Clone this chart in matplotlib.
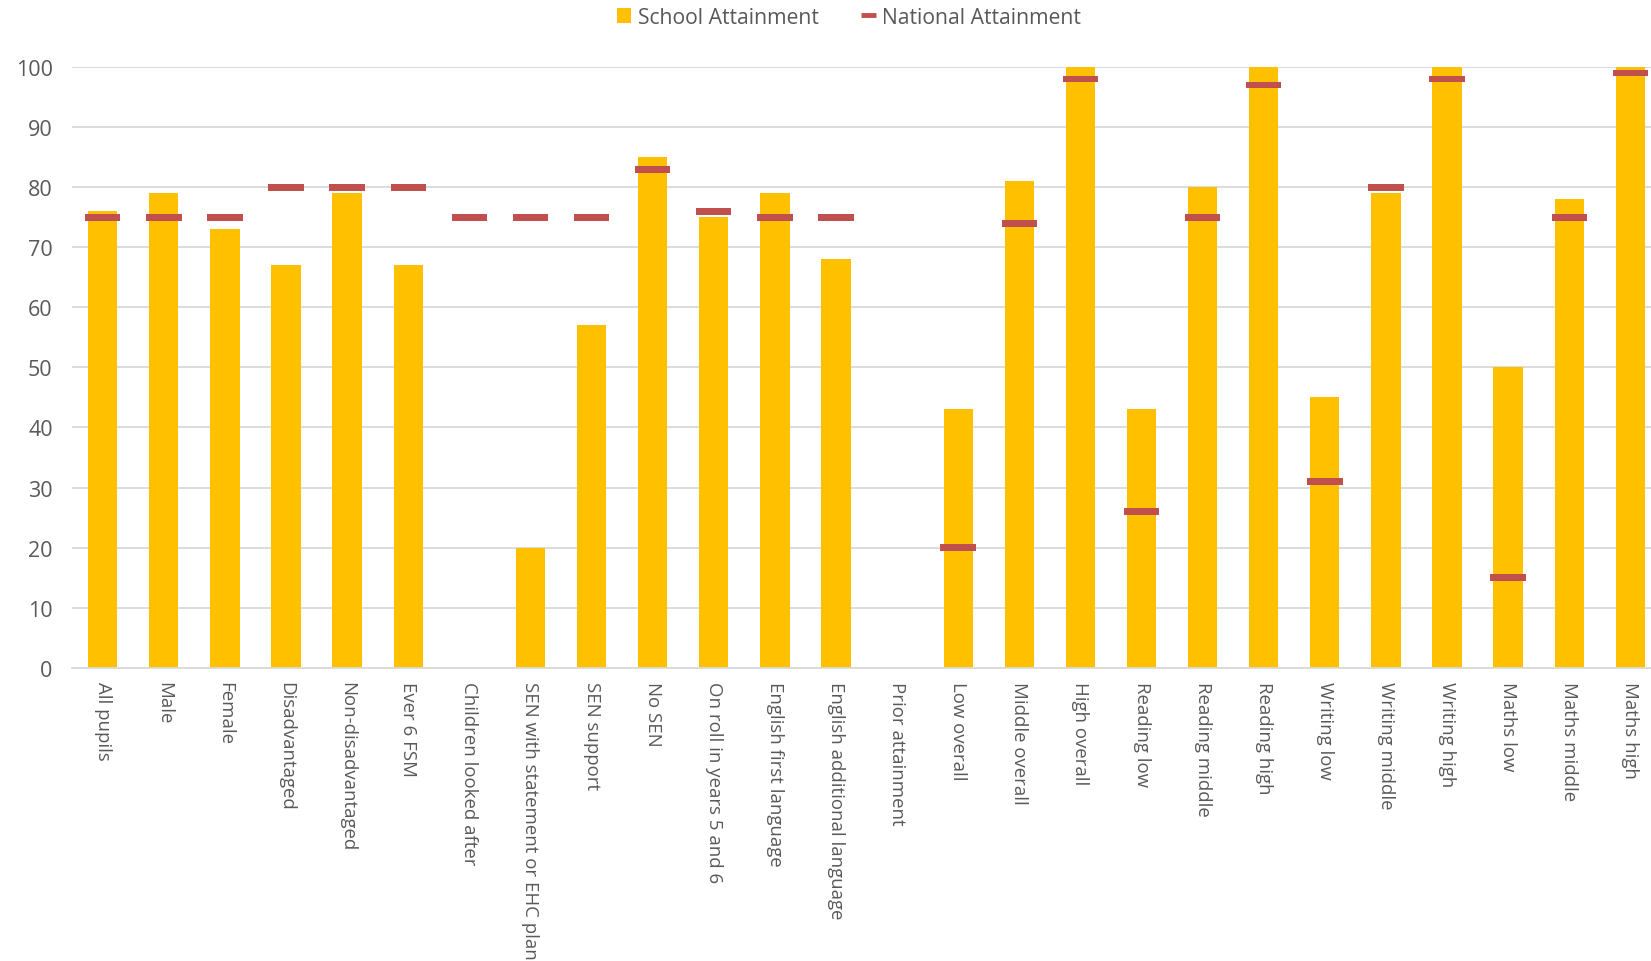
import numpy as np
from matplotlib import pyplot as plt
from matplotlib.lines import Line2D
from matplotlib.patches import Patch


categories = [
    "All pupils", "Male", "Female", "Disadvantaged", "Non-disadvantaged",
    "Ever 6 FSM", "Children looked after", "SEN with statement or EHC plan",
    "SEN support", "No SEN", "On roll in years 5 and 6", "English first language",
    "English additional language", "Prior attainment", "Low overall",
    "Middle overall", "High overall", "Reading low", "Reading middle",
    "Reading high", "Writing low", "Writing middle", "Writing high",
    "Maths low", "Maths middle", "Maths high",
]

school = [76, 79, 73, 67, 79, 67, np.nan, 20, 57, 85, 75, 79, 68, np.nan,
          43, 81, 100, 43, 80, 100, 45, 79, 100, 50, 78, 100]
national = [75, 75, 75, 80, 80, 80, 75, 75, 75, 83, 76, 75, 75, np.nan,
            20, 74, 98, 26, 75, 97, 31, 80, 98, 15, 75, 99]

yticks = [0, 10, 20, 30, 40, 50, 60, 70, 80, 90, 100]

yellow = "#FFC000"
red = "#C0504D"
text_color = "#595959"
grid_color = "#D9D9D9"

plt.rcParams["font.family"] = ["Open Sans", "DejaVu Sans"]

fig = plt.figure(figsize=(16.51, 9.62), dpi=100)
# plot area runs a little past the right edge, as in the cropped original
ax = fig.add_axes([0.0437, 0.305, 0.9623, 0.624])

x = np.arange(len(categories))
school_arr = np.array(school, dtype=float)
nat_arr = np.array(national, dtype=float)

ax.bar(x, np.nan_to_num(school_arr), width=0.48, color=yellow, zorder=2)

# national attainment as short thick dashes
marker_h = 1.05
ax.bar(x, np.where(np.isnan(nat_arr), 0, marker_h),
       bottom=np.nan_to_num(nat_arr) - marker_h / 2,
       width=0.58, color=red, zorder=3)

ax.set_xlim(-0.5, len(categories) - 0.5)
ax.set_ylim(0, 100)
ax.set_yticks(yticks)
ax.yaxis.grid(True, color=grid_color, linewidth=1.3, zorder=0)
ax.set_axisbelow(True)

for side in ["top", "right", "left"]:
    ax.spines[side].set_visible(False)
ax.spines["bottom"].set_color(grid_color)
ax.spines["bottom"].set_linewidth(1.3)

ax.set_xticks(x)
ax.set_xticklabels(categories, rotation=270, ha="center", va="top",
                   fontsize=13.4, color=text_color)
ax.tick_params(axis="x", length=0, pad=10)
ax.tick_params(axis="y", length=0, pad=14, labelsize=15.5, labelcolor=text_color)

handles = [
    Patch(facecolor=yellow, edgecolor="none"),
    Line2D([0], [0], color=red, linewidth=3.5, solid_capstyle="butt"),
]
fig.legend(handles, ["School Attainment", "National Attainment"],
           loc="center", bbox_to_anchor=(0.514, 0.981), ncol=2, frameon=False,
           fontsize=15.2, labelcolor=text_color, handlelength=0.7,
           handleheight=0.7, handletextpad=0.3, columnspacing=2.0)

fig.savefig("out.png", dpi=100)
